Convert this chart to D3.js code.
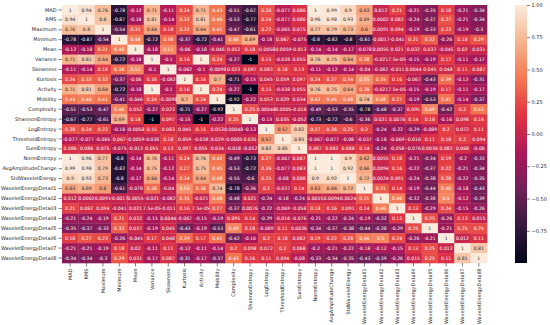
<!DOCTYPE html>
<html>
<head>
<meta charset="utf-8">
<script src="https://cdn.jsdelivr.net/npm/d3@7"></script>
<style>
  body { margin: 0; background: #fff; }
  text { font-family: "DejaVu Sans", sans-serif; }
</style>
</head>
<body>
<div id="chart"></div>
<script>
var features = ["MAD", "RMS", "Maximum", "Minimum", "Mean", "Variance", "Skewness", "Kurtosis",
  "Activity", "Mobility", "Complexity", "ShannonEntropy", "LogEntropy", "ThresholdEntropy",
  "SureEntropy", "NormEntropy", "AvgAmplitudeChange", "StdWaveletEnergy",
  "WaveletEnergyDetail1", "WaveletEnergyDetail2", "WaveletEnergyDetail3", "WaveletEnergyDetail4",
  "WaveletEnergyDetail5", "WaveletEnergyDetail6", "WaveletEnergyDetail7", "WaveletEnergyDetail8"];

// correlation matrix, one row per feature
var corr = [
  [1, 0.94, 0.76, -0.78, -0.12, 0.71, -0.11, 0.24, 0.71, 0.43, -0.51, -0.67, 0.28, -0.077, 0.086, 1, 0.99, 0.9, 0.63, 0.012, 0.21, -0.21, -0.35, 0.18, -0.21, -0.34],
  [0.94, 1, 0.8, -0.87, -0.18, 0.81, -0.14, 0.32, 0.81, 0.46, -0.53, -0.77, 0.24, -0.077, 0.086, 0.96, 0.98, 0.93, 0.69, 0.0002, 0.082, -0.24, -0.37, 0.27, -0.21, -0.34],
  [0.76, 0.8, 1, -0.54, 0.31, 0.64, 0.18, 0.32, 0.64, 0.41, -0.47, -0.61, 0.22, -0.065, 0.075, 0.77, 0.79, 0.73, 0.6, 0.0091, 0.094, -0.19, -0.33, 0.23, -0.19, -0.3],
  [-0.78, -0.87, -0.54, 1, 0.48, -0.72, 0.38, -0.37, -0.72, -0.41, 0.46, 0.69, -0.18, 0.067, -0.075, -0.8, -0.82, -0.8, -0.61, -0.0017, -0.041, 0.21, 0.32, -0.26, 0.18, 0.29],
  [-0.12, -0.18, 0.31, 0.48, 1, -0.18, 0.51, -0.06, -0.18, -0.046, 0.052, 0.18, -0.0058, -0.0059, -0.013, -0.14, -0.14, -0.17, -0.078, 0.0055, 0.021, 0.032, 0.037, -0.045, 0.02, 0.031],
  [0.71, 0.81, 0.64, -0.72, -0.18, 1, -0.1, 0.16, 1, 0.24, -0.27, -1, 0.15, -0.038, 0.055, 0.76, 0.75, 0.64, 0.38, -0.021, 7.5e-05, -0.15, -0.19, 0.17, -0.11, -0.17],
  [-0.11, -0.14, 0.18, 0.38, 0.51, -0.1, 1, -0.082, -0.1, -0.0098, 0.023, 0.097, 0.083, 0.18, 0.13, -0.11, -0.12, -0.14, -0.04, -0.082, -0.011, 0.0044, 0.045, 0.048, 0.11, 0.087],
  [0.24, 0.32, 0.32, -0.37, -0.06, 0.16, -0.082, 1, 0.16, 0.7, -0.71, -0.15, 0.045, 0.059, 0.097, 0.24, 0.27, 0.34, 0.55, 0.35, 0.16, -0.067, -0.43, 0.39, -0.12, -0.31],
  [0.71, 0.81, 0.64, -0.72, -0.18, 1, -0.1, 0.16, 1, 0.24, -0.27, -1, 0.15, -0.038, 0.055, 0.76, 0.75, 0.64, 0.38, -0.021, 7.5e-05, -0.15, -0.19, 0.17, -0.11, -0.17],
  [0.43, 0.46, 0.41, -0.41, -0.046, 0.24, -0.0098, 0.7, 0.24, 1, -0.92, -0.22, 0.053, 0.029, 0.034, 0.42, 0.45, 0.48, 0.74, 0.48, 0.27, -0.19, -0.53, 0.41, -0.14, -0.37],
  [-0.51, -0.53, -0.47, 0.46, 0.052, -0.27, 0.023, -0.71, -0.27, -0.92, 1, 0.25, 0.00048, -0.0005, -0.018, -0.49, -0.53, -0.55, -0.78, -0.48, -0.37, 0.095, 0.49, -0.42, 0.2, 0.43],
  [-0.67, -0.77, -0.61, 0.69, 0.18, -1, 0.097, -0.15, -1, -0.22, 0.25, 1, -0.13, 0.035, -0.052, -0.73, -0.72, -0.6, -0.36, 0.021, 0.0076, 0.14, 0.18, -0.16, 0.098, 0.16],
  [0.28, 0.24, 0.22, -0.18, -0.0058, 0.15, 0.083, 0.045, 0.15, 0.053, 0.00048, -0.13, 1, 0.57, 0.82, 0.27, 0.26, 0.25, 0.2, -0.24, -0.22, -0.29, -0.089, 0.2, 0.072, 0.11],
  [-0.077, -0.077, -0.065, 0.067, -0.0059, -0.038, 0.18, 0.059, -0.038, 0.029, -0.0005, 0.035, 0.57, 1, 0.85, -0.067, -0.077, -0.08, -0.037, -0.18, -0.069, -0.016, 0.11, 0.18, 0.2, 0.094],
  [0.086, 0.086, 0.075, -0.075, -0.013, 0.055, 0.13, 0.097, 0.055, 0.034, -0.018, -0.052, 0.82, 0.85, 1, 0.087, 0.083, 0.088, 0.14, -0.24, -0.058, -0.076, 0.0036, 0.082, 0.068, -0.08],
  [1, 0.96, 0.77, -0.8, -0.14, 0.76, -0.11, 0.24, 0.76, 0.42, -0.49, -0.73, 0.27, -0.067, 0.087, 1, 1, 0.9, 0.62, 0.0055, 0.18, -0.21, -0.34, 0.19, -0.2, -0.33],
  [0.99, 0.98, 0.79, -0.82, -0.14, 0.75, -0.12, 0.27, 0.75, 0.45, -0.53, -0.72, 0.26, -0.077, 0.083, 1, 1, 0.92, 0.66, 0.0094, 0.16, -0.22, -0.37, 0.22, -0.21, -0.34],
  [0.9, 0.93, 0.73, -0.8, -0.17, 0.64, -0.14, 0.34, 0.64, 0.48, -0.55, -0.6, 0.25, -0.08, 0.088, 0.9, 0.92, 1, 0.72, 0.0024, 0.091, -0.24, -0.38, 0.28, -0.22, -0.35],
  [0.63, 0.69, 0.6, -0.61, -0.078, 0.38, -0.04, 0.55, 0.38, 0.74, -0.78, -0.36, 0.2, -0.037, 0.14, 0.62, 0.66, 0.72, 1, 0.31, 0.14, -0.19, -0.44, 0.46, -0.18, -0.43],
  [0.012, 0.0002, 0.0091, -0.0017, 0.0055, -0.021, -0.082, 0.35, -0.021, 0.48, -0.48, 0.021, -0.24, -0.18, -0.24, 0.0055, 0.0094, 0.0024, 0.31, 1, 0.46, -0.32, -0.38, 0.5, -0.12, -0.39],
  [0.21, 0.082, 0.094, -0.041, 0.021, 7.5e-05, -0.011, 0.16, 7.5e-05, 0.27, -0.37, 0.0076, -0.22, -0.069, -0.058, 0.18, 0.16, 0.091, 0.14, 0.46, 1, 0.13, -0.29, 0.24, -0.15, -0.26],
  [-0.21, -0.24, -0.19, 0.21, 0.032, -0.15, 0.0044, -0.067, -0.15, -0.19, 0.095, 0.14, -0.29, -0.016, -0.076, -0.21, -0.22, -0.24, -0.19, -0.32, 0.13, 1, 0.25, -0.26, 0.13, 0.015],
  [-0.35, -0.37, -0.33, 0.32, 0.037, -0.19, 0.045, -0.43, -0.19, -0.53, 0.49, 0.18, -0.089, 0.11, 0.0036, -0.34, -0.37, -0.38, -0.44, -0.38, -0.29, 0.25, 1, -0.21, 0.25, 0.25],
  [0.18, 0.27, 0.23, -0.26, -0.045, 0.17, 0.048, 0.39, 0.17, 0.41, -0.42, -0.16, 0.2, 0.18, 0.082, 0.19, 0.22, 0.28, 0.46, 0.5, 0.24, -0.26, -0.21, 1, 0.012, 0.11],
  [-0.21, -0.21, -0.19, 0.18, 0.02, -0.11, 0.11, -0.12, -0.11, -0.14, 0.2, 0.098, 0.072, 0.2, 0.068, -0.2, -0.21, -0.22, -0.18, -0.12, -0.15, 0.13, 0.25, 0.012, 1, 0.81],
  [-0.34, -0.34, -0.3, 0.29, 0.031, -0.17, 0.087, -0.31, -0.17, -0.37, 0.43, 0.16, 0.11, 0.094, -0.08, -0.33, -0.34, -0.35, -0.43, -0.39, -0.26, 0.015, 0.25, 0.11, 0.81, 1]
];

var colorbarTicks = [-0.75, -0.5, -0.25, 0, 0.25, 0.5, 0.75, 1];

// seaborn "rocket"
var rocketStops = ["#03051a", "#35193e", "#701f57", "#ad1759", "#e13342", "#f37651", "#f6b48f", "#faebdd"];

var width = 550, height = 325;
var mLeft = 62, mRight = 487, mTop = 5, mBottom = 263;

var svg = d3.select("#chart").append("svg")
  .attr("width", width).attr("height", height);

var x = d3.scaleBand().domain(features).range([mLeft, mRight]);
var y = d3.scaleBand().domain(features).range([mTop, mBottom]);

var color = d3.scaleLinear()
  .domain(d3.range(rocketStops.length).map(function(i) { return -1 + 2 * i / (rocketStops.length - 1); }))
  .range(rocketStops)
  .interpolate(d3.interpolateRgb)
  .clamp(true);

function fmt(v) {
  if (v !== 0 && Math.abs(v) < 1e-4) {
    var e = v.toExponential(1);
    return e.replace(/e([+-])(\d)$/, "e$10$2");
  }
  var s = v.toPrecision(2);
  if (s.indexOf(".") >= 0) s = s.replace(/0+$/, "").replace(/\.$/, "");
  return s;
}

function textColor(c) {
  var rgb = d3.rgb(c);
  var lin = [rgb.r, rgb.g, rgb.b].map(function(v) {
    v = v / 255;
    return v <= 0.03928 ? v / 12.92 : Math.pow((v + 0.055) / 1.055, 2.4);
  });
  var lum = 0.2126 * lin[0] + 0.7152 * lin[1] + 0.0722 * lin[2];
  return lum > 0.408 ? "#262626" : "#ffffff";
}

var cells = [];
corr.forEach(function(row, i) {
  row.forEach(function(v, j) {
    cells.push({ r: features[i], c: features[j], v: v });
  });
});

svg.append("g").selectAll("rect")
  .data(cells).enter().append("rect")
  .attr("x", function(d) { return x(d.c); })
  .attr("y", function(d) { return y(d.r); })
  .attr("width", x.bandwidth() + 0.3)
  .attr("height", y.bandwidth() + 0.3)
  .attr("fill", function(d) { return color(d.v); });

svg.append("g").selectAll("text")
  .data(cells).enter().append("text")
  .attr("x", function(d) { return x(d.c) + x.bandwidth() / 2; })
  .attr("y", function(d) { return y(d.r) + y.bandwidth() / 2; })
  .attr("dy", "0.35em")
  .attr("text-anchor", "middle")
  .attr("font-size", 4.6)
  .attr("fill", function(d) { return textColor(color(d.v)); })
  .text(function(d) { return fmt(d.v); });

// axes
var yAxis = svg.append("g")
  .attr("transform", "translate(" + mLeft + ",0)")
  .call(d3.axisLeft(y).tickSize(3.5).tickPadding(2));
yAxis.select(".domain").remove();
yAxis.selectAll("text").attr("font-size", 5).attr("fill", "#262626").style("font-family", "DejaVu Sans");
yAxis.selectAll("line").attr("stroke", "#262626").attr("stroke-width", 0.6);

var xAxis = svg.append("g")
  .attr("transform", "translate(0," + mBottom + ")")
  .call(d3.axisBottom(x).tickSize(3.5).tickPadding(2));
xAxis.select(".domain").remove();
xAxis.selectAll("line").attr("stroke", "#262626").attr("stroke-width", 0.6);
xAxis.selectAll("text")
  .attr("font-size", 5).attr("fill", "#262626").style("font-family", "DejaVu Sans")
  .attr("transform", "rotate(-90)")
  .attr("text-anchor", "end")
  .attr("x", -5.5).attr("y", 0).attr("dy", "0.35em");

// colorbar
var cbX = 515, cbW = 12;
var cbScale = d3.scaleLinear().domain([-1, 1]).range([mBottom, mTop]);
var grad = svg.append("defs").append("linearGradient")
  .attr("id", "rocket").attr("x1", 0).attr("y1", 1).attr("x2", 0).attr("y2", 0);
grad.selectAll("stop").data(rocketStops).enter().append("stop")
  .attr("offset", function(d, i) { return i / (rocketStops.length - 1); })
  .attr("stop-color", function(d) { return d; });
svg.append("rect")
  .attr("x", cbX).attr("y", mTop)
  .attr("width", cbW).attr("height", mBottom - mTop)
  .attr("fill", "url(#rocket)");

var cbAxis = svg.append("g")
  .attr("transform", "translate(" + (cbX + cbW) + ",0)")
  .call(d3.axisRight(cbScale).tickValues(colorbarTicks).tickSize(3).tickPadding(1.5));
cbAxis.select(".domain").remove();
cbAxis.selectAll("line").attr("stroke", "#262626").attr("stroke-width", 0.6);
cbAxis.selectAll("text").attr("font-size", 5).attr("fill", "#262626").style("font-family", "DejaVu Sans")
  .text(function(d) { return d3.format(".2f")(d).replace("-", "\u2212"); });
</script>
</body>
</html>
